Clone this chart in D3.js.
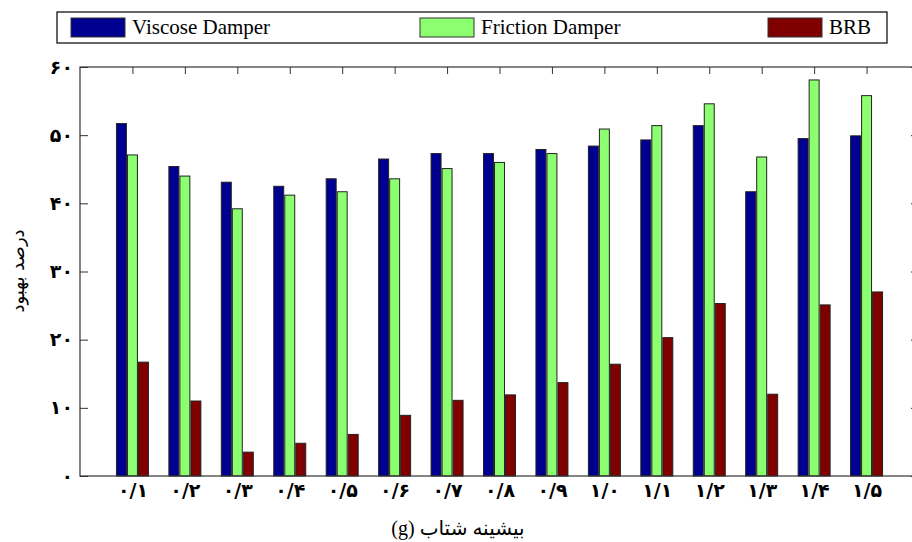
<!DOCTYPE html>
<html>
<head>
<meta charset="utf-8">
<script src="https://cdn.jsdelivr.net/npm/d3@7"></script>
<style>
  html, body { margin: 0; padding: 0; background: #fff; }
  svg { display: block; }
</style>
</head>
<body>
<svg id="chart" width="912" height="542"></svg>
<script>
// ---- data ----
const categories = ["۰/۱","۰/۲","۰/۳","۰/۴","۰/۵","۰/۶","۰/۷","۰/۸","۰/۹","۱/۰","۱/۱","۱/۲","۱/۳","۱/۴","۱/۵"];
const seriesNames = ["Viscose Damper", "Friction Damper", "BRB"];
const viscose  = [51.7, 45.4, 43.1, 42.5, 43.6, 46.5, 47.3, 47.3, 47.9, 48.4, 49.3, 51.4, 41.7, 49.5, 49.9];
const friction = [47.1, 44.0, 39.2, 41.2, 41.7, 43.6, 45.1, 46.0, 47.3, 50.9, 51.4, 54.6, 46.8, 58.1, 55.8];
const brb      = [16.7, 11.0, 3.5, 4.8, 6.1, 8.9, 11.1, 11.9, 13.7, 16.4, 20.3, 25.3, 12.0, 25.1, 27.0];
const yTicks = [0, 10, 20, 30, 40, 50, 60];
const yTickLabels = ["۰","۱۰","۲۰","۳۰","۴۰","۵۰","۶۰"];
const xTitle = "بیشینه شتاب (g)";
const yTitle = "درصد بهبود";
const colors = ["#000090", "#8CFF70", "#800000"];

const seriesData = [viscose, friction, brb];

// ---- layout ----
const svg = d3.select("#chart");
const plot = { left: 80, right: 919, top: 67, bottom: 476 };

const x = d3.scaleLinear().domain([0, 16]).range([plot.left, plot.right]);
const y = d3.scaleLinear().domain([0, 60]).range([plot.bottom, plot.top]);

const barOffset = 0.21;   // in category units
const barWidth = 0.19;

// bars
seriesData.forEach((vals, s) => {
  svg.append("g").selectAll("rect")
    .data(vals)
    .join("rect")
    .attr("x", (d, i) => x(i + 1 + (s - 1) * barOffset - barWidth / 2))
    .attr("y", d => y(d))
    .attr("width", x(barWidth) - x(0))
    .attr("height", d => y(0) - y(d))
    .attr("fill", colors[s])
    .attr("stroke", "#222")
    .attr("stroke-width", 1);
});

// frame
svg.append("rect")
  .attr("x", plot.left).attr("y", plot.top)
  .attr("width", plot.right - plot.left).attr("height", plot.bottom - plot.top)
  .attr("fill", "none").attr("stroke", "#333").attr("stroke-width", 1.2);

const catIdx = categories.map((c, i) => i + 1);

// bottom axis with labels
const xAxis = d3.axisBottom(x).tickValues(catIdx)
  .tickFormat((d, i) => categories[i]).tickSize(0).tickPadding(8);
const gx = svg.append("g").attr("transform", `translate(0,${plot.bottom})`).call(xAxis);
gx.select(".domain").remove();
gx.selectAll("text")
  .attr("font-family", "DejaVu Sans, sans-serif")
  .attr("font-size", 19).attr("font-weight", "bold").attr("fill", "#000");

// top ticks (inward)
const xTop = d3.axisTop(x).tickValues(catIdx).tickFormat("").tickSize(-7);
const gxt = svg.append("g").attr("transform", `translate(0,${plot.top})`).call(xTop);
gxt.select(".domain").remove();
gxt.selectAll("line").attr("stroke", "#333");

// left axis
const yAxis = d3.axisLeft(y).tickValues(yTicks)
  .tickFormat((d, i) => yTickLabels[i]).tickSize(-8).tickPadding(7);
const gy = svg.append("g").attr("transform", `translate(${plot.left},0)`).call(yAxis);
gy.select(".domain").remove();
gy.selectAll("line").attr("stroke", "#333");
gy.selectAll("text")
  .attr("font-family", "DejaVu Sans, sans-serif")
  .attr("font-size", 19).attr("font-weight", "bold").attr("fill", "#000");

// right ticks (inward)
const yRight = d3.axisRight(y).tickValues(yTicks).tickFormat("").tickSize(-8);
const gyr = svg.append("g").attr("transform", `translate(${plot.right},0)`).call(yRight);
gyr.select(".domain").remove();
gyr.selectAll("line").attr("stroke", "#333");

// axis titles
svg.append("text")
  .attr("x", 458).attr("y", 535)
  .attr("text-anchor", "middle")
  .style("direction", "rtl")
  .attr("font-family", "Liberation Serif, DejaVu Sans, serif")
  .attr("font-size", 20)
  .attr("fill", "#000")
  .text(xTitle);

svg.append("text")
  .attr("transform", "translate(24,271) rotate(-90)")
  .attr("text-anchor", "middle")
  .style("direction", "rtl")
  .attr("font-family", "DejaVu Sans, sans-serif")
  .attr("font-size", 18)
  .attr("fill", "#000")
  .text(yTitle);

// legend
const lg = svg.append("g");
lg.append("rect")
  .attr("x", 57).attr("y", 12).attr("width", 830).attr("height", 31)
  .attr("fill", "#fff").attr("stroke", "#000").attr("stroke-width", 1.2);
const legendX = [71, 420, 768];
seriesNames.forEach((name, s) => {
  lg.append("rect")
    .attr("x", legendX[s]).attr("y", 18).attr("width", 54).attr("height", 19)
    .attr("fill", colors[s]).attr("stroke", "#333").attr("stroke-width", 1);
  lg.append("text")
    .attr("x", legendX[s] + 61).attr("y", 34)
    .attr("font-family", "Liberation Serif, Times New Roman, serif")
    .attr("font-size", 21)
    .attr("fill", "#000")
    .text(name);
});
</script>
</body>
</html>
